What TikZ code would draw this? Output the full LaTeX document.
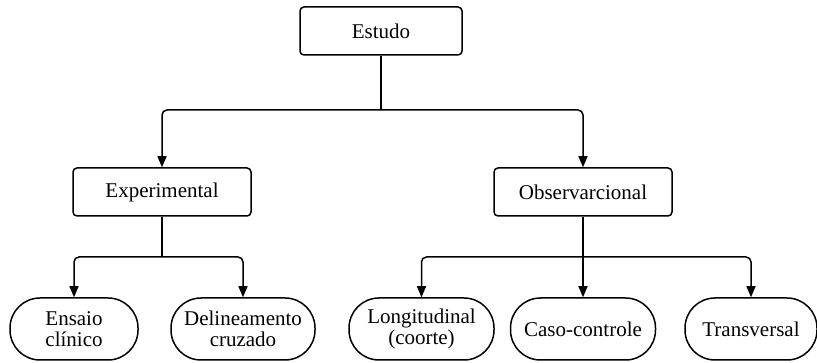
\documentclass[tikz,border=0pt]{standalone}
\usepackage{fontspec}
\setmainfont{Liberation Serif}
\usetikzlibrary{arrows.meta}
\begin{document}
\begin{tikzpicture}[x=1pt,y=-1pt,
  box/.style={draw,line width=1.5pt,rounded corners=4pt,minimum width=#1,minimum height=48pt,inner sep=0pt,font=\fontsize{21}{21}\selectfont},
  pill/.style={draw,line width=1.5pt,rounded corners=30pt,minimum width=#1,minimum height=62pt,inner sep=0pt,align=center,font=\fontsize{21}{21}\selectfont},
  conn/.style={line width=1.5pt,rounded corners=5pt,-{Triangle[length=11pt,width=9pt]}},
  line/.style={line width=1.5pt}]
\useasboundingbox (0,0) rectangle (817,363);
\node[box=162pt] (est) at (381,31) {Estudo};
\node[box=178pt] (exp) at (162,192) {Experimental};
\node[box=178pt] (obs) at (583,192) {Observarcional};
\node[pill=128pt] (ens) at (74,329) {Ensaio\\clínico};
\node[pill=144pt] (del) at (243,329) {Delineamento\\cruzado};
\node[pill=145pt] (lon) at (421.5,329) {Longitudinal\\(coorte)};
\node[pill=145pt] (cas) at (583,329) {Caso-controle};
\node[pill=132pt] (tra) at (751,329) {Transversal};
\coordinate (j1) at (381,110);
\coordinate (j2) at (162,257);
\coordinate (j3) at (583,257);
\draw[line] (est.south) -- (j1);
\draw[conn] (j1) -| (exp.north);
\draw[conn] (j1) -| (obs.north);
\draw[line] (exp.south) -- (j2);
\draw[conn] (j2) -| (ens.north);
\draw[conn] (j2) -| (del.north);
\draw[line] (obs.south) -- (j3);
\draw[conn] (j3) -| (lon.north);
\draw[conn] (j3) -- (cas.north);
\draw[conn] (j3) -| (tra.north);
\end{tikzpicture}
\end{document}
